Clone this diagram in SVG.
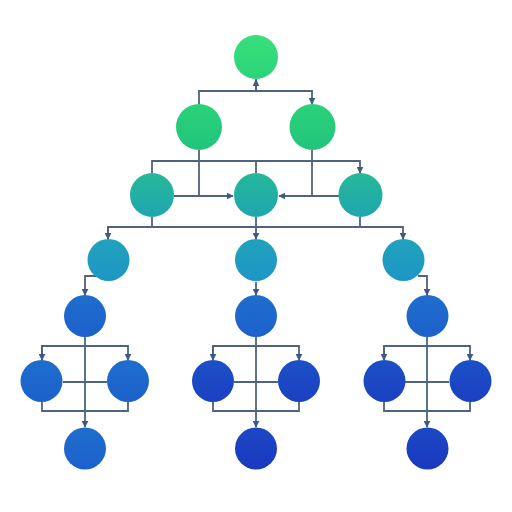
<svg xmlns="http://www.w3.org/2000/svg" width="512" height="512" viewBox="0 0 512 512">
<style>
.c{fill:none;stroke:#4d6382;stroke-width:1.8}
.n{stroke:none}
</style>
<defs>
<marker id="a" viewBox="0 0 10 10" refX="9" refY="5" markerWidth="7" markerHeight="7" orient="auto-start-reverse" markerUnits="userSpaceOnUse"><path d="M0 0L10 5L0 10z" fill="#3f5a80"/></marker>
<linearGradient id="g1" x1="0" y1="0" x2="0" y2="1"><stop offset="0" stop-color="#38e07a"/><stop offset="1" stop-color="#2bd37a"/></linearGradient>
<linearGradient id="g2" x1="0" y1="0" x2="0" y2="1"><stop offset="0" stop-color="#2ad27a"/><stop offset="1" stop-color="#22c47c"/></linearGradient>
<linearGradient id="g3" x1="0" y1="0" x2="0" y2="1"><stop offset="0" stop-color="#25b898"/><stop offset="1" stop-color="#1fa6b0"/></linearGradient>
<linearGradient id="g4" x1="0" y1="0" x2="0" y2="1"><stop offset="0" stop-color="#20a2bc"/><stop offset="1" stop-color="#1e96c6"/></linearGradient>
<linearGradient id="g5" x1="0" y1="0" x2="0" y2="1"><stop offset="0" stop-color="#1e6ecc"/><stop offset="1" stop-color="#1d60cc"/></linearGradient>
<linearGradient id="g6" x1="0" y1="0" x2="0" y2="1"><stop offset="0" stop-color="#1c50c6"/><stop offset="1" stop-color="#1a40c2"/></linearGradient>
<linearGradient id="g7" x1="0" y1="0" x2="0" y2="1"><stop offset="0" stop-color="#1c48c4"/><stop offset="1" stop-color="#1a38c0"/></linearGradient>
</defs>
<rect width="512" height="512" fill="#ffffff"/>
<g id="connectors">
<path class="c" d="M256 79V91"/>
<path class="c" d="M256 91V80" marker-end="url(#a)"/>
<path class="c" d="M199 104V91H312V104" marker-end="url(#a)"/>
<path class="c" d="M199 150V196"/>
<path class="c" d="M312 150V196"/>
<path class="c" d="M152 173V161H360V173" marker-end="url(#a)"/>
<path class="c" d="M256 161V173"/>
<path class="c" d="M174 196H233" marker-end="url(#a)"/>
<path class="c" d="M339 196H279" marker-end="url(#a)"/>
<path class="c" d="M152 217V227"/>
<path class="c" d="M360 217V227"/>
<path class="c" d="M108 239V227H403V239" marker-end="url(#a)"/>
<path class="c" d="M108 227V239" marker-end="url(#a)"/>
<path class="c" d="M256 217V239" marker-end="url(#a)"/>
<path class="c" d="M97 276H85V295" marker-end="url(#a)"/>
<path class="c" d="M256 282V295" marker-end="url(#a)"/>
<path class="c" d="M418 276H427V295" marker-end="url(#a)"/>
<path class="c" d="M42 360V346H128V360" marker-end="url(#a)"/>
<path class="c" d="M42 346V360" marker-end="url(#a)"/>
<path class="c" d="M85 337V427" marker-end="url(#a)"/>
<path class="c" d="M63 382H107"/>
<path class="c" d="M42 402V411H128V402"/>
<path class="c" d="M213 360V346H299V360" marker-end="url(#a)"/>
<path class="c" d="M213 346V360" marker-end="url(#a)"/>
<path class="c" d="M256 337V427" marker-end="url(#a)"/>
<path class="c" d="M234 382H278"/>
<path class="c" d="M213 402V411H299V402"/>
<path class="c" d="M384 360V346H470V360" marker-end="url(#a)"/>
<path class="c" d="M384 346V360" marker-end="url(#a)"/>
<path class="c" d="M427 337V427" marker-end="url(#a)"/>
<path class="c" d="M405 382H449"/>
<path class="c" d="M384 402V411H470V402"/>
</g>
<g id="n1"><circle class="n" cx="256" cy="57" r="22" fill="url(#g1)"/></g>
<g id="n2"><circle class="n" cx="199" cy="127" r="23" fill="url(#g2)"/></g>
<g id="n3"><circle class="n" cx="312.5" cy="127" r="23" fill="url(#g2)"/></g>
<g id="n4"><circle class="n" cx="152" cy="195" r="22" fill="url(#g3)"/></g>
<g id="n5"><circle class="n" cx="256" cy="195" r="22" fill="url(#g3)"/></g>
<g id="n6"><circle class="n" cx="360.5" cy="195" r="22" fill="url(#g3)"/></g>
<g id="n7"><circle class="n" cx="108.5" cy="260" r="21" fill="url(#g4)"/></g>
<g id="n8"><circle class="n" cx="256" cy="260" r="21" fill="url(#g4)"/></g>
<g id="n9"><circle class="n" cx="403.5" cy="260" r="21" fill="url(#g4)"/></g>
<g id="n10"><circle class="n" cx="85" cy="316" r="21" fill="url(#g5)"/></g>
<g id="n11"><circle class="n" cx="256" cy="316" r="21" fill="url(#g5)"/></g>
<g id="n12"><circle class="n" cx="427.5" cy="316" r="21" fill="url(#g5)"/></g>
<g id="n13"><circle class="n" cx="41.5" cy="381" r="21" fill="url(#g5)"/></g>
<g id="n14"><circle class="n" cx="128" cy="381" r="21" fill="url(#g5)"/></g>
<g id="n15"><circle class="n" cx="85" cy="448.5" r="21" fill="url(#g5)"/></g>
<g id="n16"><circle class="n" cx="213" cy="381" r="21" fill="url(#g6)"/></g>
<g id="n17"><circle class="n" cx="299" cy="381" r="21" fill="url(#g6)"/></g>
<g id="n18"><circle class="n" cx="256" cy="448.5" r="21" fill="url(#g7)"/></g>
<g id="n19"><circle class="n" cx="384.5" cy="381" r="21" fill="url(#g6)"/></g>
<g id="n20"><circle class="n" cx="470.5" cy="381" r="21" fill="url(#g6)"/></g>
<g id="n21"><circle class="n" cx="427.5" cy="448.5" r="21" fill="url(#g7)"/></g>
</svg>
